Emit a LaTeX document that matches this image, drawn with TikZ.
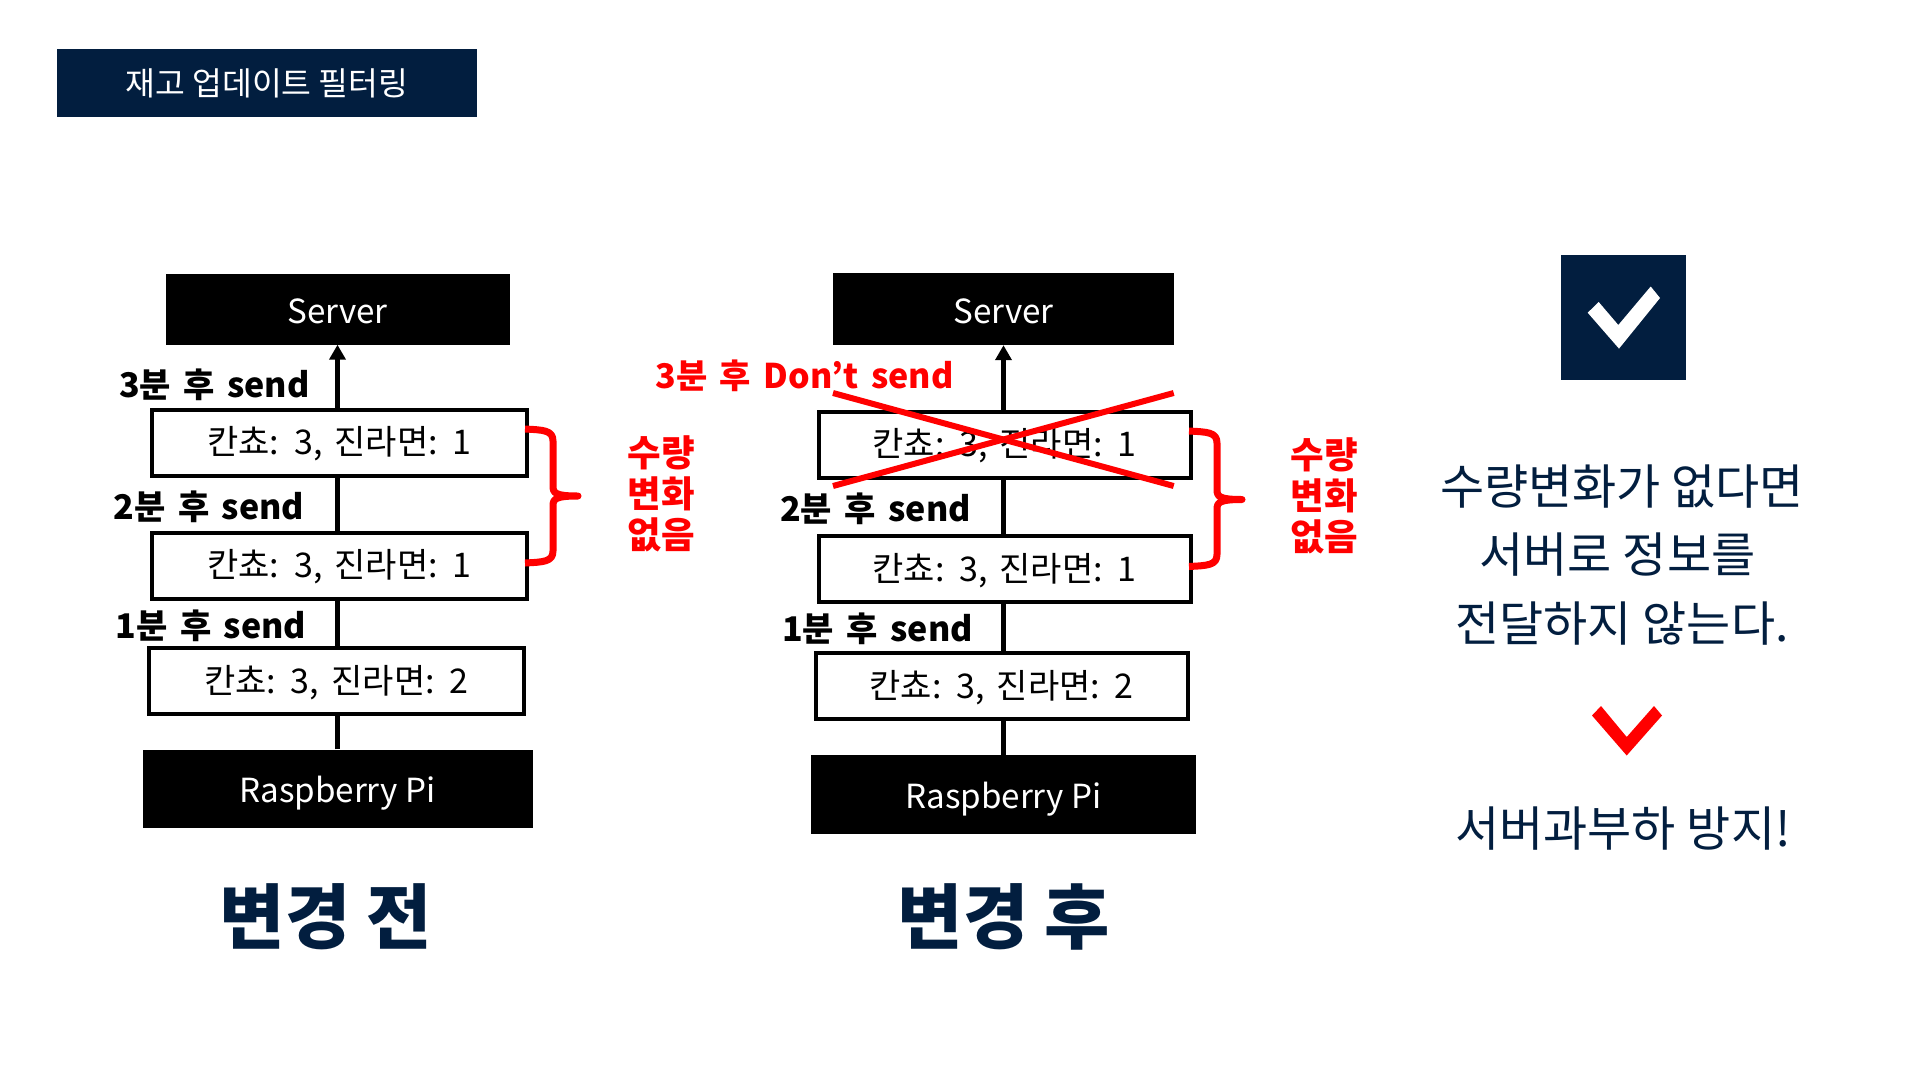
\documentclass[tikz,border=0pt]{standalone}
\usepackage{fontspec}
\setmainfont{Noto Sans CJK KR}
\newfontfamily\widefont[WordSpace=1.6]{Noto Sans CJK KR}
\usetikzlibrary{arrows.meta}
\definecolor{navy}{HTML}{021E3F}
\begin{document}
\begin{tikzpicture}[x=1pt,y=-1pt,
    blackbox/.style={fill=black,text=white,inner sep=0pt,text height=34pt,text depth=6pt,font=\fontsize{33.2}{38}\selectfont},
    countbox/.style={draw=black,line width=4pt,fill=white,minimum width=375pt,minimum height=66pt,inner sep=0pt,text height=30pt,text depth=6pt,font=\widefont\fontsize{34}{38}\selectfont},
    sendlabel/.style={inner sep=0pt,font=\widefont\fontsize{34}{38}\selectfont\bfseries},
    redlabel/.style={inner sep=0pt,text=red,align=center,font=\fontsize{36.5}{41}\selectfont\bfseries},
    wire/.style={line width=5pt},
    redline/.style={red,line width=6pt},
    heading/.style={inner sep=0pt,text=navy,font=\fontsize{71}{78}\selectfont\bfseries},
    bodytext/.style={inner sep=0pt,text=navy,align=center,font=\fontsize{48}{68.5}\selectfont}]
  \useasboundingbox (0,0) rectangle (1920,1080);

  \node[fill=navy,text=white,minimum width=420pt,minimum height=68pt,inner sep=0pt,font=\fontsize{32.4}{36}\selectfont] (title) at (267,83) {재고 업데이트 필터링};

  \node[blackbox,minimum width=344pt,minimum height=71pt] (serverA) at (337.5,309) {Server};
  \node[countbox] (boxA3) at (339.5,442.5) {칸쵸: 3, 진라면: 1};
  \node[countbox] (boxA2) at (339.5,565.5) {칸쵸: 3, 진라면: 1};
  \node[countbox] (boxA1) at (336.3,681) {칸쵸: 3, 진라면: 2};
  \node[blackbox,minimum width=390pt,minimum height=78pt] (piA) at (337.5,788.5) {Raspberry Pi};

  \node[blackbox,minimum width=341pt,minimum height=72pt] (serverB) at (1003.5,309) {Server};
  \node[countbox,minimum width=372pt] (boxB3) at (1004.5,444.5) {칸쵸: 3, 진라면: 1};
  \node[countbox,minimum width=372pt] (boxB2) at (1004.5,569) {칸쵸: 3, 진라면: 1};
  \node[countbox,minimum width=372pt] (boxB1) at (1001.6,686) {칸쵸: 3, 진라면: 2};
  \node[blackbox,minimum width=385pt,minimum height=79pt] (piB) at (1003.5,794.5) {Raspberry Pi};

  \foreach \p in {A,B} {
    \draw[wire] (pi\p.north) -- (pi\p.north |- box\p1.south);
    \draw[wire] (pi\p.north |- box\p1.north) -- (pi\p.north |- box\p2.south);
    \draw[wire] (pi\p.north |- box\p2.north) -- (pi\p.north |- box\p3.south);
    \draw[wire,-{Triangle[length=15pt,width=16pt]}] (pi\p.north |- box\p3.north) -- (pi\p.north |- server\p.south);
  }

  \node[sendlabel] (sendA3) at (214.5,385) {3분 후 send};
  \node[sendlabel] (sendA2) at (209,507) {2분 후 send};
  \node[sendlabel] (sendA1) at (211,626) {1분 후 send};
  \node[sendlabel,text=red] (sendB3) at (804.5,376) {3분 후 Don’t send};
  \node[sendlabel] (sendB2) at (875.5,509) {2분 후 send};
  \node[sendlabel] (sendB1) at (877.5,629) {1분 후 send};

  \coordinate (crossTL) at (833,393);
  \coordinate (crossTR) at (1173.7,393);
  \coordinate (crossBL) at (833,486);
  \coordinate (crossBR) at (1173.7,486);
  \draw[redline] (crossTL) -- (crossBR);
  \draw[redline] (crossBL) -- (crossTR);

  \foreach \x/\t/\m/\b in {525/429/496/563, 1189/431/499.5/566.5} {
    \draw[redline,line width=7pt,line join=round] (\x,\t) .. controls (\x+18,\t+1) and (\x+28,\t+1) .. (\x+28,\t+12)
      -- (\x+28,\m-10) .. controls (\x+28,\m-3) and (\x+30,\m) .. (\x+53,\m)
      .. controls (\x+30,\m) and (\x+28,\m+3) .. (\x+28,\m+10)
      -- (\x+28,\b-12) .. controls (\x+28,\b-1) and (\x+18,\b-1) .. (\x,\b);
  }

  \node[redlabel] (noteA) at (661,494) {수량\\변화\\없음};
  \node[redlabel] (noteB) at (1324,496) {수량\\변화\\없음};

  \node[heading] (headA) at (326,917) {변경 전};
  \node[heading] (headB) at (1004,917) {변경 후};

  \node[fill=navy,minimum size=125pt,inner sep=0pt] (checkbox) at (1623.5,317.5) {};
  \fill[white] (1587.7,312.7) -- (1598.7,302) -- (1618.3,325) -- (1650.7,286.5) -- (1660,298) -- (1619,348.6) -- cycle;

  \node[bodytext] (body) at (1622,555) {수량변화가 없다면\\서버로 정보를\kern9pt\relax\\전달하지 않는다.};
  \fill[red] (1592,715.5) -- (1601,706) -- (1626.7,737) -- (1654,706) -- (1662,715.5) -- (1626.7,755.5) -- cycle;
  \node[bodytext] (result) at (1623,829) {서버과부하 방지!};
\end{tikzpicture}
\end{document}
